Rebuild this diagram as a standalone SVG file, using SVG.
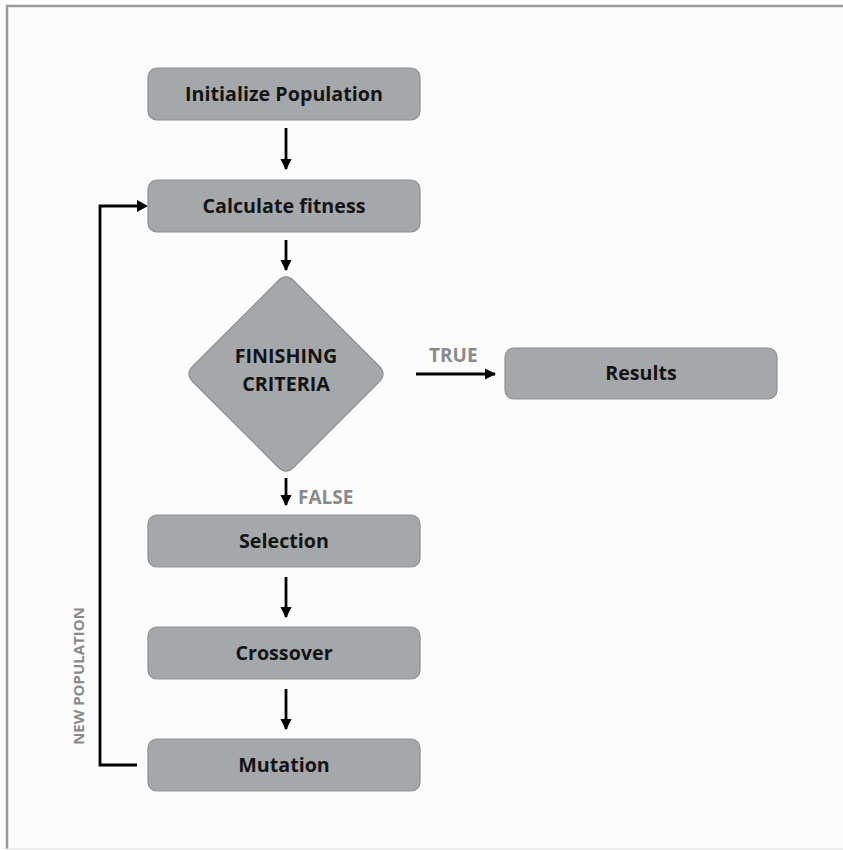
<svg xmlns="http://www.w3.org/2000/svg" width="843" height="850" viewBox="0 0 843 850">
  <style>
    .box { fill: #a5a8ab; stroke: #8c8f92; stroke-width: 1.2; }
    .lbl { font-family: "Open Sans", "Liberation Sans", sans-serif; font-weight: bold; font-size: 19.7px; fill: #141414; text-anchor: middle; }
    .tag { font-family: "Open Sans", "Liberation Sans", sans-serif; font-weight: bold; font-size: 19px; fill: #8a8a8a; }
    .side { font-size: 15px; text-anchor: middle; }
    .wire { stroke: #000; stroke-width: 2.8; fill: none; }
  </style>
  <defs>
    <marker id="head" viewBox="0 0 10 10" refX="9" refY="5" markerWidth="4" markerHeight="4" orient="auto" markerUnits="strokeWidth">
      <path d="M0,0 L10,5 L0,10 Z" fill="#000"/>
    </marker>
  </defs>
  <rect x="0" y="0" width="843" height="850" fill="#fcfcfc"/>
  <path d="M7,849 V6 H843" fill="none" stroke="#9a9a9a" stroke-width="2.5"/>
  <line x1="7" y1="849" x2="843" y2="849" stroke="#e8e8e8" stroke-width="1.5"/>

  <g id="connectors">
    <line class="wire" x1="286" y1="128" x2="286" y2="169" marker-end="url(#head)"/>
    <line class="wire" x1="286" y1="240" x2="286" y2="270" marker-end="url(#head)"/>
    <line class="wire" x1="416" y1="374" x2="495" y2="374" marker-end="url(#head)"/>
    <line class="wire" x1="286" y1="478" x2="286" y2="505" marker-end="url(#head)"/>
    <line class="wire" x1="286" y1="577" x2="286" y2="617" marker-end="url(#head)"/>
    <line class="wire" x1="286" y1="689" x2="286" y2="729" marker-end="url(#head)"/>
    <polyline class="wire" points="137,765 100,765 100,206 140,206" stroke-width="3.6"/>
    <path d="M137,200 L148,206 L137,212 Z" fill="#000"/>
    <text class="tag" x="429" y="362">TRUE</text>
    <text class="tag" x="298" y="504">FALSE</text>
    <text class="tag side" transform="translate(84,676) rotate(-90)">NEW POPULATION</text>
  </g>

  <g id="init">
    <rect class="box" x="148" y="68" width="272" height="52" rx="9"/>
    <text class="lbl" x="284" y="101">Initialize Population</text>
  </g>
  <g id="fitness">
    <rect class="box" x="148" y="180" width="272" height="52" rx="9"/>
    <text class="lbl" x="284" y="213">Calculate fitness</text>
  </g>
  <g id="criteria">
    <path class="box" d="M278,281 Q286,273 294,281 L379,366 Q387,374 379,382 L294,467 Q286,475 278,467 L193,382 Q185,374 193,366 Z"/>
    <text class="lbl" x="286" y="363">FINISHING</text>
    <text class="lbl" x="286" y="391">CRITERIA</text>
  </g>
  <g id="results">
    <rect class="box" x="505" y="348" width="272" height="51" rx="9"/>
    <text class="lbl" x="641" y="380">Results</text>
  </g>
  <g id="selection">
    <rect class="box" x="148" y="515" width="272" height="52" rx="9"/>
    <text class="lbl" x="284" y="548">Selection</text>
  </g>
  <g id="crossover">
    <rect class="box" x="148" y="627" width="272" height="52" rx="9"/>
    <text class="lbl" x="284" y="660">Crossover</text>
  </g>
  <g id="mutation">
    <rect class="box" x="148" y="739" width="272" height="52" rx="9"/>
    <text class="lbl" x="284" y="772">Mutation</text>
  </g>
</svg>
